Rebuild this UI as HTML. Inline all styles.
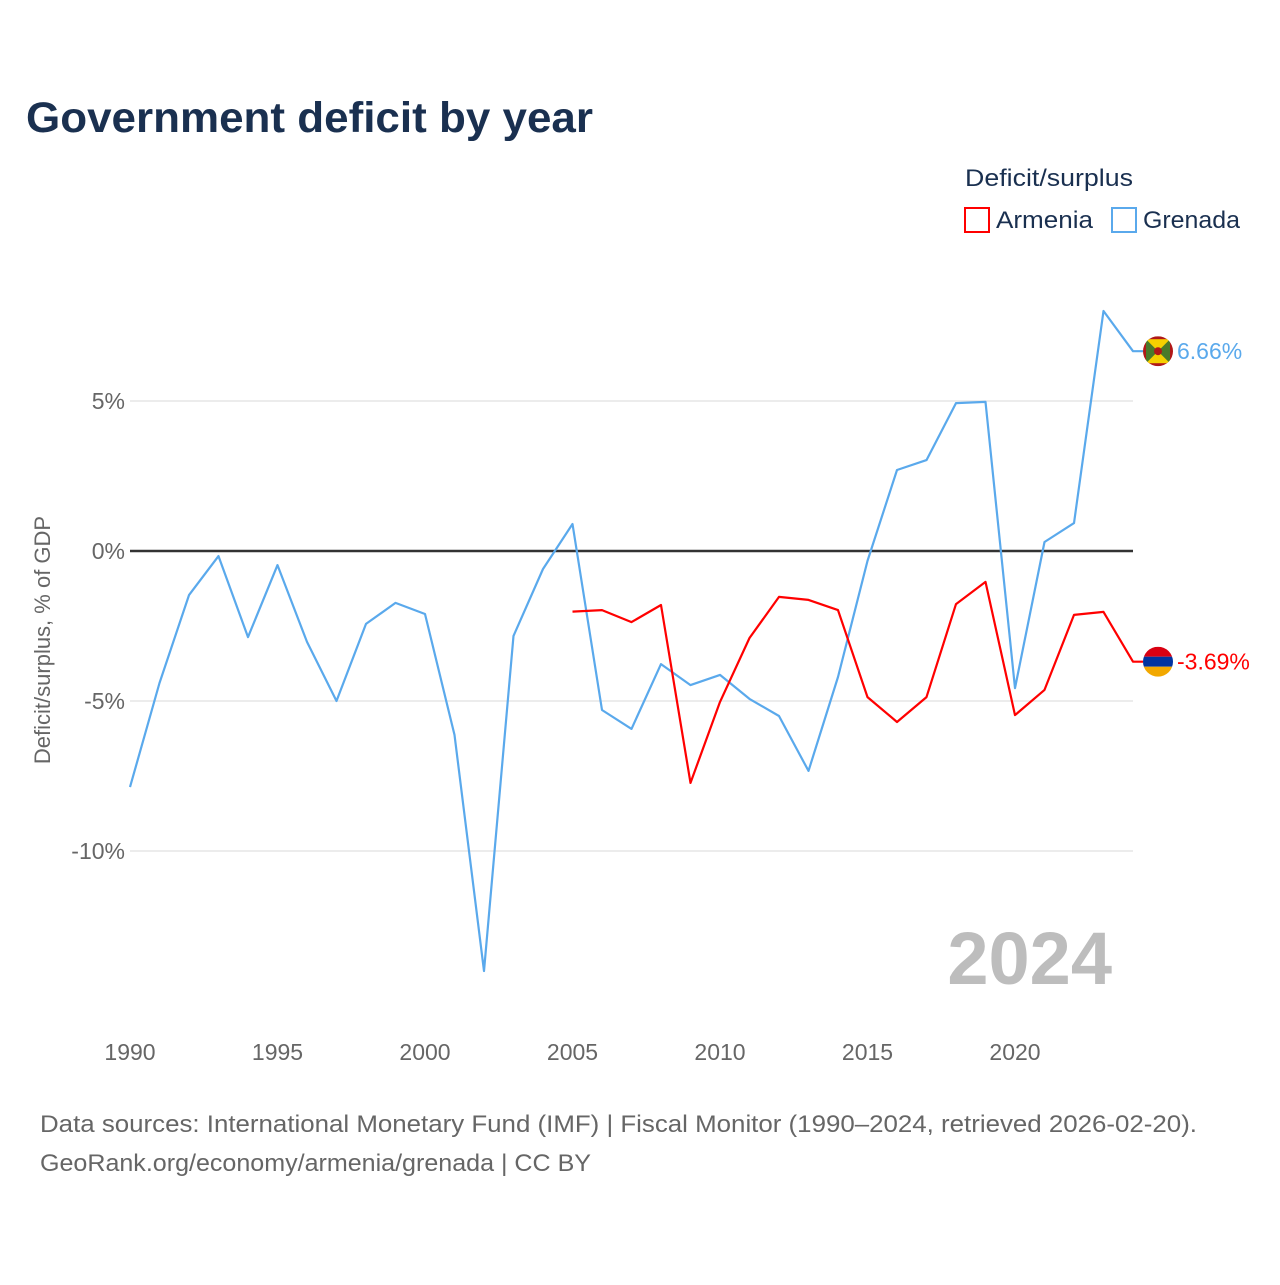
<!DOCTYPE html>
<html><head><meta charset="utf-8"><style>
body{margin:0;background:#fff;font-family:"Liberation Sans",sans-serif}
</style></head><body>
<svg width="1280" height="1280" viewBox="0 0 1280 1280" xmlns="http://www.w3.org/2000/svg" id="chart">
<rect width="1280" height="1280" fill="#fff"/>
<text x="26" y="132" font-size="43" font-weight="bold" fill="#1a3050" textLength="567" lengthAdjust="spacingAndGlyphs">Government deficit by year</text>
<text x="965" y="186" font-size="24" fill="#1a3050" textLength="168" lengthAdjust="spacingAndGlyphs">Deficit/surplus</text>
<g><rect x="965" y="208" width="24" height="24" fill="none" stroke="#ff0000" stroke-width="2"/><text x="996" y="228" font-size="24" fill="#1a3050" textLength="97" lengthAdjust="spacingAndGlyphs">Armenia</text></g>
<g><rect x="1112" y="208" width="24" height="24" fill="none" stroke="#5aa9ec" stroke-width="2"/><text x="1143" y="228" font-size="24" fill="#1a3050" textLength="97" lengthAdjust="spacingAndGlyphs">Grenada</text></g>
<text transform="translate(50,640) rotate(-90)" text-anchor="middle" font-size="22" fill="#666">Deficit/surplus, % of GDP</text>
<g id="grid"></g><g id="lines"></g>
<text x="1112" y="984" text-anchor="end" font-size="74" font-weight="bold" fill="#bdbdbd">2024</text>
<text x="40" y="1132" font-size="24" fill="#666" textLength="1157" lengthAdjust="spacingAndGlyphs">Data sources: International Monetary Fund (IMF) | Fiscal Monitor (1990–2024, retrieved 2026-02-20).</text>
<text x="40" y="1171" font-size="24" fill="#666" textLength="551" lengthAdjust="spacingAndGlyphs">GeoRank.org/economy/armenia/grenada | CC BY</text>
</svg>
<script>
const years=[];for(let y=1990;y<=2024;y++)years.push(y);
const grenada=[-7.87,-4.4,-1.47,-0.17,-2.87,-0.47,-3.03,-5.0,-2.43,-1.73,-2.1,-6.13,-14.0,-2.83,-0.6,0.9,-5.3,-5.93,-3.77,-4.47,-4.13,-4.93,-5.5,-7.33,-4.2,-0.33,2.7,3.03,4.93,4.97,-4.57,0.3,0.93,8.0,6.66];
const armeniaYears=[2005,2006,2007,2008,2009,2010,2011,2012,2013,2014,2015,2016,2017,2018,2019,2020,2021,2022,2023,2024];
const armenia=[-2.02,-1.97,-2.37,-1.8,-7.73,-5.03,-2.9,-1.53,-1.63,-1.97,-4.87,-5.7,-4.87,-1.77,-1.03,-5.47,-4.63,-2.13,-2.03,-3.69];
const yTicks=[5,0,-5,-10];
const yTickLabels=["5%","0%","-5%","-10%"];
const xTicks=[1990,1995,2000,2005,2010,2015,2020];
const NS="http://www.w3.org/2000/svg";
const X=y=>130+(y-1990)*(1133-130)/34;
const Y=v=>551-v*30;
const grid=document.getElementById('grid'),lines=document.getElementById('lines');
function mk(tag,attrs,parent){const e=document.createElementNS(NS,tag);for(const k in attrs)e.setAttribute(k,attrs[k]);parent.appendChild(e);return e;}
yTicks.forEach((t,i)=>{
  const l=mk('line',{x1:130,x2:1133,y1:Y(t),y2:Y(t),stroke:t===0?'#333':'#e6e6e6','stroke-width':t===0?2.5:1.5},grid);
  
  
  const tx=mk('text',{x:125,y:Y(t)+8,'text-anchor':'end','font-size':23,fill:'#666'},grid);
  tx.textContent=yTickLabels[i];
  
  
});
xTicks.forEach(t=>{
  const tx=mk('text',{x:X(t),y:1060,'text-anchor':'middle','font-size':23,fill:'#666'},grid);
  tx.textContent=t;
  
  
});
function series(xs,vs,color,name){
  const pts=xs.map((x,i)=>X(x)+','+Y(vs[i]));
  pts.push((X(xs[xs.length-1])+10)+','+Y(vs[vs.length-1]));
  const p=mk('polyline',{points:pts.join(' '),fill:'none',stroke:color,'stroke-width':2.2,'stroke-linejoin':'round'},lines);
  
  
}
series(years,grenada,'#5aa9ec','grenada-line');
series(armeniaYears,armenia,'#ff0000','armenia-line');
function endLabel(v,color,name,flag){
  const g=mk('g',{},lines);
  
  
  const cx=1158,cy=Y(v);
  if(flag==='am'){
    const cp=mk('clipPath',{id:'cam'},g);mk('circle',{cx:cx,cy:cy,r:15},cp);
    const f=mk('g',{'clip-path':'url(#cam)'},g);
    mk('rect',{x:cx-15,y:cy-15,width:30,height:10,fill:'#d90012'},f);
    mk('rect',{x:cx-15,y:cy-5,width:30,height:10,fill:'#0033a0'},f);
    mk('rect',{x:cx-15,y:cy+5,width:30,height:10,fill:'#f2a800'},f);
  }else{
    const cp=mk('clipPath',{id:'cgd'},g);mk('circle',{cx:cx,cy:cy,r:15},cp);
    const f=mk('g',{'clip-path':'url(#cgd)'},g);
    mk('rect',{x:cx-15,y:cy-15,width:30,height:30,fill:'#b01818'},f);
    mk('rect',{x:cx-12,y:cy-12,width:24,height:24,fill:'#f5d000'},f);
    mk('polygon',{points:`${cx-12},${cy-12} ${cx},${cy} ${cx-12},${cy+12}`,fill:'#4a7a2a'},f);
    mk('polygon',{points:`${cx+12},${cy-12} ${cx},${cy} ${cx+12},${cy+12}`,fill:'#4a7a2a'},f);
    mk('circle',{cx:cx,cy:cy,r:4,fill:'#b01818'},f);
  }
  const t=mk('text',{x:1177,y:cy+8,'font-size':23,fill:color},g);
  t.textContent=v.toFixed(2)+'%';
}
endLabel(grenada[grenada.length-1],'#5aa9ec','grenada-end-label','gd');
endLabel(armenia[armenia.length-1],'#ff0000','armenia-end-label','am');
</script>
</body></html>
